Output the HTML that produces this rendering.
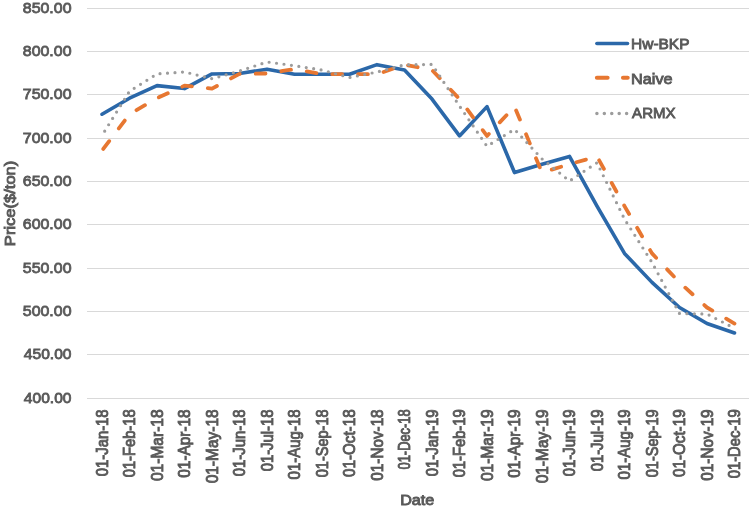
<!DOCTYPE html>
<html><head><meta charset="utf-8"><style>
html,body{margin:0;padding:0;background:#fff;}
body{width:749px;height:508px;overflow:hidden;position:relative;}
svg{position:absolute;left:0;top:0;will-change:transform;}
text{font-family:"Liberation Sans",sans-serif;font-weight:normal;fill:#595959;stroke:#595959;stroke-width:0.6px;}
</style></head><body>
<svg width="749" height="508" viewBox="0 0 749 508">
<g stroke="#D9D9D9" stroke-width="1" shape-rendering="crispEdges">
<line x1="87" y1="8.5" x2="749" y2="8.5"/>
<line x1="87" y1="51.5" x2="749" y2="51.5"/>
<line x1="87" y1="94.5" x2="749" y2="94.5"/>
<line x1="87" y1="138.5" x2="749" y2="138.5"/>
<line x1="87" y1="181.5" x2="749" y2="181.5"/>
<line x1="87" y1="224.5" x2="749" y2="224.5"/>
<line x1="87" y1="268.5" x2="749" y2="268.5"/>
<line x1="87" y1="311.5" x2="749" y2="311.5"/>
<line x1="87" y1="354.5" x2="749" y2="354.5"/>
<line x1="87" y1="398.5" x2="749" y2="398.5"/>
</g>
<text transform="translate(71.50,12.90) scale(1.0277,1)" text-anchor="end" style="font-size:15.5px;stroke-width:0.85px">850.00</text>
<text transform="translate(71.50,55.90) scale(1.0277,1)" text-anchor="end" style="font-size:15.5px;stroke-width:0.85px">800.00</text>
<text transform="translate(71.50,98.90) scale(1.0277,1)" text-anchor="end" style="font-size:15.5px;stroke-width:0.85px">750.00</text>
<text transform="translate(71.50,142.90) scale(1.0277,1)" text-anchor="end" style="font-size:15.5px;stroke-width:0.85px">700.00</text>
<text transform="translate(71.50,185.90) scale(1.0277,1)" text-anchor="end" style="font-size:15.5px;stroke-width:0.85px">650.00</text>
<text transform="translate(71.50,228.90) scale(1.0277,1)" text-anchor="end" style="font-size:15.5px;stroke-width:0.85px">600.00</text>
<text transform="translate(71.50,272.90) scale(1.0277,1)" text-anchor="end" style="font-size:15.5px;stroke-width:0.85px">550.00</text>
<text transform="translate(71.50,315.90) scale(1.0277,1)" text-anchor="end" style="font-size:15.5px;stroke-width:0.85px">500.00</text>
<text transform="translate(71.50,358.90) scale(1.0062,1)" text-anchor="end" style="font-size:15.5px;stroke-width:0.85px">450.00</text>
<text transform="translate(71.50,402.90) scale(1.0062,1)" text-anchor="end" style="font-size:15.5px;stroke-width:0.85px">400.00</text>
<text transform="translate(107.80,409.39) rotate(-90) scale(0.9278,1)" text-anchor="end" style="font-size:16.0px;stroke-width:0.9px">01-Jan-18</text>
<text transform="translate(135.30,409.38) rotate(-90) scale(0.9216,1)" text-anchor="end" style="font-size:16.0px;stroke-width:0.9px">01-Feb-18</text>
<text transform="translate(162.80,409.39) rotate(-90) scale(0.9716,1)" text-anchor="end" style="font-size:16.0px;stroke-width:0.9px">01-Mar-18</text>
<text transform="translate(190.30,409.39) rotate(-90) scale(0.9606,1)" text-anchor="end" style="font-size:16.0px;stroke-width:0.9px">01-Apr-18</text>
<text transform="translate(217.80,409.39) rotate(-90) scale(0.9675,1)" text-anchor="end" style="font-size:16.0px;stroke-width:0.9px">01-May-18</text>
<text transform="translate(245.30,409.39) rotate(-90) scale(0.9278,1)" text-anchor="end" style="font-size:16.0px;stroke-width:0.9px">01-Jun-18</text>
<text transform="translate(272.80,409.39) rotate(-90) scale(0.9299,1)" text-anchor="end" style="font-size:16.0px;stroke-width:0.9px">01-Jul-18</text>
<text transform="translate(300.30,409.39) rotate(-90) scale(0.9387,1)" text-anchor="end" style="font-size:16.0px;stroke-width:0.9px">01-Aug-18</text>
<text transform="translate(327.80,409.38) rotate(-90) scale(0.9093,1)" text-anchor="end" style="font-size:16.0px;stroke-width:0.9px">01-Sep-18</text>
<text transform="translate(355.30,409.39) rotate(-90) scale(0.9507,1)" text-anchor="end" style="font-size:16.0px;stroke-width:0.9px">01-Oct-18</text>
<text transform="translate(382.80,409.39) rotate(-90) scale(0.9547,1)" text-anchor="end" style="font-size:16.0px;stroke-width:0.9px">01-Nov-18</text>
<text transform="translate(410.30,409.36) rotate(-90) scale(0.8047,1)" text-anchor="end" style="font-size:16.0px;stroke-width:0.9px">01-Dec-18</text>
<text transform="translate(437.80,409.39) rotate(-90) scale(0.9278,1)" text-anchor="end" style="font-size:16.0px;stroke-width:0.9px">01-Jan-19</text>
<text transform="translate(465.30,409.38) rotate(-90) scale(0.9216,1)" text-anchor="end" style="font-size:16.0px;stroke-width:0.9px">01-Feb-19</text>
<text transform="translate(492.80,409.39) rotate(-90) scale(0.9716,1)" text-anchor="end" style="font-size:16.0px;stroke-width:0.9px">01-Mar-19</text>
<text transform="translate(520.30,409.39) rotate(-90) scale(0.9606,1)" text-anchor="end" style="font-size:16.0px;stroke-width:0.9px">01-Apr-19</text>
<text transform="translate(547.80,409.39) rotate(-90) scale(0.9675,1)" text-anchor="end" style="font-size:16.0px;stroke-width:0.9px">01-May-19</text>
<text transform="translate(575.30,409.39) rotate(-90) scale(0.9278,1)" text-anchor="end" style="font-size:16.0px;stroke-width:0.9px">01-Jun-19</text>
<text transform="translate(602.80,409.39) rotate(-90) scale(0.9299,1)" text-anchor="end" style="font-size:16.0px;stroke-width:0.9px">01-Jul-19</text>
<text transform="translate(630.30,409.39) rotate(-90) scale(0.9387,1)" text-anchor="end" style="font-size:16.0px;stroke-width:0.9px">01-Aug-19</text>
<text transform="translate(657.80,409.38) rotate(-90) scale(0.9093,1)" text-anchor="end" style="font-size:16.0px;stroke-width:0.9px">01-Sep-19</text>
<text transform="translate(685.30,409.39) rotate(-90) scale(0.9507,1)" text-anchor="end" style="font-size:16.0px;stroke-width:0.9px">01-Oct-19</text>
<text transform="translate(712.80,409.39) rotate(-90) scale(0.9547,1)" text-anchor="end" style="font-size:16.0px;stroke-width:0.9px">01-Nov-19</text>
<text transform="translate(740.30,409.38) rotate(-90) scale(0.9227,1)" text-anchor="end" style="font-size:16.0px;stroke-width:0.9px">01-Dec-19</text>
<text transform="translate(417.26,505.00) scale(1.0469,1)" text-anchor="middle" style="font-size:15.5px;stroke-width:0.9px">Date</text>
<text transform="translate(14.60,203.41) rotate(-90) scale(1.0675,1)" text-anchor="middle" style="font-size:15.5px;stroke-width:0.9px">Price($/ton)</text>
<text transform="translate(631.10,49.00) scale(0.9965,1)" text-anchor="start" style="font-size:15.5px;stroke-width:0.9px">Hw-BKP</text>
<text transform="translate(631.05,83.50) scale(1.0487,1)" text-anchor="start" style="font-size:15.5px;stroke-width:0.9px">Naive</text>
<text transform="translate(632.10,118.00) scale(0.9711,1)" text-anchor="start" style="font-size:15.5px;stroke-width:0.9px">ARMX</text>
<path d="M102.00,114.23 L129.50,98.20 L157.00,85.63 L184.50,88.58 L212.00,73.93 L239.50,73.50 L267.00,69.17 L294.50,74.19 L322.00,74.19 L349.50,74.19 L377.00,64.66 L404.50,70.03 L432.00,99.07 L459.50,135.90 L487.00,106.61 L514.50,172.56 L542.00,164.24 L569.50,156.44 L597.00,206.10 L624.50,253.42 L652.00,282.37 L679.50,307.50 L707.00,323.53 L734.50,332.98" fill="none" stroke="#2B68A9" stroke-width="3.6" stroke-linejoin="round" stroke-linecap="round"/>
<path d="M102.00,150.63 L129.50,114.23 L157.00,98.20 L184.50,85.63 L212.00,88.58 L239.50,73.93 L267.00,73.50 L294.50,69.17 L322.00,74.19 L349.50,74.19 L377.00,74.19 L404.50,64.66 L432.00,70.03 L459.50,99.07 L487.00,135.90 L514.50,106.61 L542.00,172.56 L569.50,164.24 L597.00,156.44 L624.50,206.10 L652.00,253.42 L679.50,282.37 L707.00,307.50 L734.50,323.53" fill="none" stroke="#E77731" stroke-width="3.8" stroke-dasharray="9.8 16" stroke-dashoffset="23.7" stroke-linecap="round" stroke-linejoin="round"/>
<path d="M102.00,135.47 L129.50,91.27 L157.00,73.93 L184.50,71.94 L212.00,78.70 L239.50,71.07 L267.00,61.97 L294.50,65.70 L322.00,70.03 L349.50,77.57 L377.00,72.03 L404.50,64.83 L432.00,64.40 L459.50,106.00 L487.00,146.30 L514.50,129.31 L542.00,158.87 L569.50,180.97 L597.00,162.77 L624.50,219.10 L652.00,262.43 L679.50,313.57 L707.00,314.00 L734.50,328.30" fill="none" stroke="#9C9C9C" stroke-width="3.2" stroke-dasharray="0 7.5" stroke-dashoffset="2.4" stroke-linecap="round" stroke-linejoin="round"/>
<line x1="596.9" y1="43.5" x2="627.5" y2="43.5" stroke="#2B68A9" stroke-width="3.6" stroke-linecap="round"/>
<line x1="596.9" y1="77.8" x2="627.7" y2="77.8" stroke="#E77731" stroke-width="4.1" stroke-dasharray="10.7 15.4" stroke-linecap="round"/>
<line x1="596.9" y1="113.5" x2="626.7" y2="113.5" stroke="#9C9C9C" stroke-width="3.5" stroke-dasharray="0 7.43" stroke-linecap="round"/>
</svg>
</body></html>
